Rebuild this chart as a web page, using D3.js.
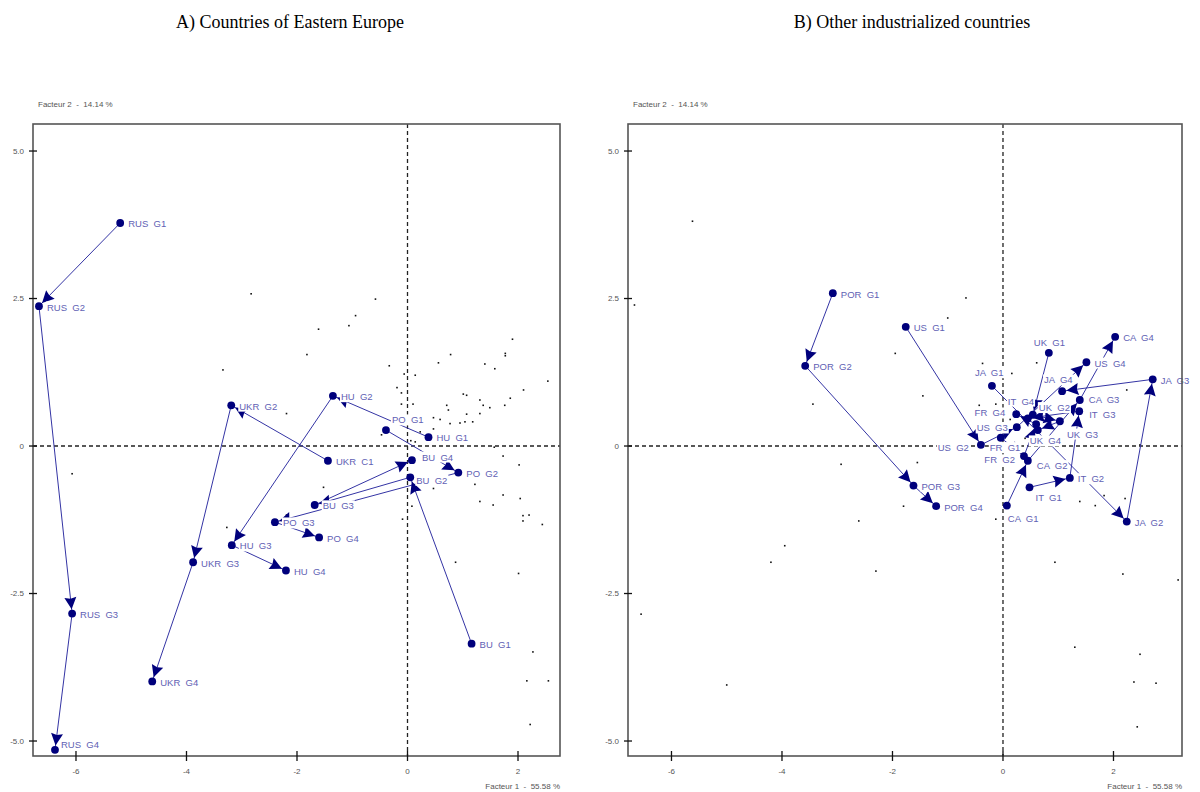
<!DOCTYPE html>
<html><head><meta charset="utf-8">
<script src="https://cdn.jsdelivr.net/npm/d3@7"></script>
<style>body{margin:0;background:#fff}svg{display:block}</style>
</head><body>
<svg id="c" width="1200" height="792"></svg>
<script>
// ---------------- DATA ----------------
const periods = ["G1", "G2", "G3", "G4"];

// Panel A : Eastern Europe (factor 1, factor 2) for G1..G4
const eastCountries = ["RUS", "UKR", "HU", "PO", "BU"];
const RUS = [[-5.20, 3.78], [-6.67, 2.37], [-6.07, -2.84], [-6.38, -5.15]];
const UKR = [[-1.44, -0.25], [-3.19, 0.69], [-3.88, -1.97], [-4.62, -3.99]];
const HU  = [[0.38, 0.15], [-1.35, 0.85], [-3.18, -1.68], [-2.20, -2.11]];
const PO  = [[-0.39, 0.27], [0.92, -0.45], [-2.40, -1.29], [-1.60, -1.55]];
const BU  = [[1.16, -3.35], [0.05, -0.53], [-1.68, -1.00], [0.08, -0.24]];

// Panel B : other industrialized countries
const otherCountries = ["POR", "US", "JA", "UK", "IT", "FR", "CA"];
const POR = [[-3.08, 2.59], [-3.58, 1.36], [-1.62, -0.67], [-1.21, -1.02]];
const US  = [[-1.76, 2.02], [-0.40, 0.02], [0.25, 0.32], [1.51, 1.42]];
const JA  = [[-0.20, 1.02], [2.24, -1.28], [2.71, 1.13], [1.07, 0.93]];
const UK  = [[0.83, 1.58], [0.54, 0.53], [1.03, 0.42], [0.63, 0.27]];
const IT  = [[0.48, -0.70], [1.21, -0.54], [1.38, 0.59], [0.45, 0.47]];
const FR  = [[-0.04, 0.14], [0.38, -0.17], [0.60, 0.37], [0.24, 0.54]];
const CA  = [[0.07, -1.01], [0.45, -0.25], [1.39, 0.78], [2.03, 1.85]];

// supplementary (unlabelled) points
const suppA = [[-2.83,2.58],[-0.58,2.49],[-0.94,2.21],[-1.61,1.98],[-1.06,2.04],[-1.82,1.55],[-0.33,1.36],[-0.06,1.22],[-0.19,0.99],[0.14,1.20],[0.78,1.55],[0.56,1.41],[1.40,1.39],[1.58,1.31],[1.77,1.57],[1.77,1.53],[1.90,1.81],[2.54,1.10],[-0.11,0.90],[-2.19,0.55],[-0.11,0.71],[0.10,0.71],[0.71,0.69],[1.01,0.88],[1.07,0.86],[1.31,0.78],[1.37,0.69],[1.49,0.65],[1.76,0.69],[1.86,0.81],[2.10,0.95],[0.74,0.61],[1.07,0.54],[1.31,0.55],[1.18,0.41],[0.47,0.48],[0.59,0.45],[0.77,0.38],[0.95,0.39],[1.04,0.41],[0.23,0.24],[0.47,0.29],[0.06,0.09],[0.14,0.07],[0.47,-0.72],[1.22,-0.65],[1.73,-0.83],[2.04,-0.89],[-0.47,0.19],[-1.52,-0.70],[2.27,-3.49],[2.16,-3.98],[2.55,-3.98],[2.22,-4.72],[-2.19,-1.17],[-3.27,-1.38],[0.08,-1.02],[-0.09,-1.24],[0.87,-1.97],[2.01,-2.16],[1.31,-0.94],[1.55,-1.00],[2.09,-1.18],[2.09,-1.27],[2.20,-1.17],[2.44,-1.33],[-6.07,-0.47],[-3.34,1.29],[1.57,-0.02],[1.73,-0.17],[2.02,-0.32]];
const suppB = [[-5.62,3.81],[-6.67,2.39],[-1.95,1.57],[-1.45,0.85],[-1.55,-0.28],[-1.80,-1.02],[-0.37,1.40],[0.16,1.23],[0.61,1.41],[-0.43,0.69],[-0.13,0.71],[0.13,0.45],[0.40,0.13],[1.39,-0.94],[1.67,-1.01],[1.83,-0.84],[2.21,-0.89],[2.24,0.95],[2.48,0.02],[-0.13,-1.24],[-0.67,2.51],[-1.00,2.17],[-3.44,0.71],[-2.93,-0.31],[-2.61,-1.27],[-3.95,-1.69],[-4.20,-1.97],[-2.30,-2.12],[-6.55,-2.85],[-5.00,-4.05],[0.94,-1.97],[2.17,-2.17],[3.17,-2.27],[1.30,-3.41],[2.48,-3.53],[2.37,-4.00],[2.77,-4.02],[2.43,-4.76]];

const yTicks = [5, 2.5, 0, -2.5, -5];
const yTickLabels = ["5.0", "2.5", "0", "-2.5", "-5.0"];
const xTicks = [-6, -4, -2, 0, 2];
const xTickLabels = ["-6", "-4", "-2", "0", "2"];
const titles = ["A) Countries of Eastern Europe", "B) Other industrialized countries"];
const axis1Title = "Facteur 1  -  55.58 %";
const axis2Title = "Facteur 2  -  14.14 %";
const labelTextOverride = {"UKR G1": "UKR  C1"};
const hiddenLabels = ["FR G3"];

// ---------------- LAYOUT (label offsets in px) ----------------
const labelOffsetsA = {
  "RUS G4": [6, -5], "PO G1": [6, -10], "BU G2": [6, 3], "BU G4": [10, -3]
};
const labelOffsetsB = {
  "US G2": [-12, 3, "end"], "US G3": [-9, 1, "end"], "FR G1": [-11, 10], "FR G2": [-9, 4, "end"],
  "FR G4": [-11, -1, "end"], "IT G4": [-20, -17], "JA G1": [-17, -13], "UK G1": [-15, -10],
  "JA G4": [-18, -11], "UK G2": [6, -7], "UK G3": [7, 13], "UK G4": [-8, 11],
  "CA G2": [9, 5], "IT G1": [6, 10], "CA G1": [1, 13], "CA G3": [9, 0], "IT G3": [10, 3]
};

const svg = d3.select("#c");
const navy = "#00007c", lineCol = "#3434a4", labCol = "#6161b4";

function panel(opt) {
  const x = d3.scaleLinear().domain(opt.xDomain).range([opt.left, opt.right]);
  const y = d3.scaleLinear().domain([-5.254, 5.458]).range([756, 124]);
  const g = svg.append("g");
  svg.append("text").attr("x", opt.titleX).attr("y", 28).attr("text-anchor", "middle")
    .attr("font-family", "Liberation Serif, Times New Roman, serif").attr("font-size", 18)
    .attr("fill", "#000").text(opt.title);
  g.append("line").attr("x1", x(0)).attr("x2", x(0)).attr("y1", y.range()[1]).attr("y2", y.range()[0])
    .attr("stroke", "#222").attr("stroke-width", 1.3).attr("stroke-dasharray", "4,3");
  g.append("line").attr("x1", opt.left).attr("x2", opt.right).attr("y1", y(0)).attr("y2", y(0))
    .attr("stroke", "#222").attr("stroke-width", 1.3).attr("stroke-dasharray", "4,3");
  g.append("g").selectAll("rect").data(opt.supp).join("rect")
    .attr("x", d => x(d[0]) - 0.8).attr("y", d => y(d[1]) - 0.8).attr("width", 1.6).attr("height", 1.6)
    .attr("fill", "#111");
  const series = opt.countries.map((c, i) => ({c, pts: opt.values[i].map((v, j) => ({c, p: periods[j], px: x(v[0]), py: y(v[1])}))}));
  const segs = [];
  series.forEach(s => { for (let j = 0; j < s.pts.length - 1; j++) segs.push([s.pts[j], s.pts[j + 1]]); });
  g.append("g").selectAll("line").data(segs).join("line")
    .attr("x1", d => d[0].px).attr("y1", d => d[0].py).attr("x2", d => d[1].px).attr("y2", d => d[1].py)
    .attr("stroke", lineCol).attr("stroke-width", 1);
  const L = 12, W = 12, r = 3.9;
  g.append("g").selectAll("path").data(segs).join("path")
    .attr("d", d => {
      const dx = d[1].px - d[0].px, dy = d[1].py - d[0].py, len = Math.hypot(dx, dy);
      const ux = dx / len, uy = dy / len, nx = -uy, ny = ux;
      const tx = d[1].px - ux * (r + 0.5), ty = d[1].py - uy * (r + 0.5);
      const bx = tx - ux * L, by = ty - uy * L;
      const mx = tx - ux * L * 0.88, my = ty - uy * L * 0.88;
      return `M${tx},${ty}L${bx + nx * W / 2},${by + ny * W / 2}L${mx},${my}L${bx - nx * W / 2},${by - ny * W / 2}Z`;
    }).attr("fill", navy);
  const all = series.flatMap(s => s.pts);
  const lg = g.append("g").attr("font-family", "Liberation Sans, Arial, sans-serif").attr("font-size", 9.5);
  all.forEach(d => {
    const key = d.c + " " + d.p;
    if (hiddenLabels.includes(key)) return;
    const o = opt.offsets[key] || [8, 1, "start"];
    const txt = labelTextOverride[key] || (d.c + "  " + d.p);
    const t = lg.append("text").attr("x", d.px + o[0]).attr("y", d.py + o[1]).attr("dy", "0.35em")
      .attr("text-anchor", o[2] || "start").attr("fill", labCol)
      .style("white-space", "pre").text(txt);
    const bb = t.node().getBBox();
    lg.insert("rect", "text:last-child").attr("x", bb.x - 1).attr("y", bb.y).attr("width", bb.width + 2)
      .attr("height", bb.height).attr("fill", "#fff");
  });
  g.append("g").selectAll("circle").data(all).join("circle")
    .attr("cx", d => d.px).attr("cy", d => d.py).attr("r", r).attr("fill", navy);
  g.append("rect").attr("x", opt.left).attr("y", 124).attr("width", opt.right - opt.left).attr("height", 632)
    .attr("fill", "none").attr("stroke", "#555").attr("stroke-width", 1.6);
  const tk = g.append("g").attr("font-family", "Liberation Sans, Arial, sans-serif").attr("font-size", 8).attr("fill", "#555");
  yTicks.forEach((v, i) => {
    tk.append("line").attr("x1", opt.left - 4).attr("x2", opt.left + 4).attr("y1", y(v)).attr("y2", y(v)).attr("stroke", "#111").attr("stroke-width", 1.3);
    tk.append("text").attr("x", opt.left - 9).attr("y", y(v)).attr("dy", "0.35em").attr("text-anchor", "end").text(yTickLabels[i]);
  });
  xTicks.forEach((v, i) => {
    tk.append("line").attr("x1", x(v)).attr("x2", x(v)).attr("y1", 751).attr("y2", 761).attr("stroke", "#111").attr("stroke-width", 1.3);
    tk.append("text").attr("x", x(v)).attr("y", 771).attr("dy", "0.35em").attr("text-anchor", "middle").text(xTickLabels[i]);
  });
  tk.append("text").attr("x", opt.left + 5).attr("y", 104).attr("dy", "0.35em").text(axis2Title).style("white-space", "pre");
  tk.append("text").attr("x", opt.right).attr("y", 786).attr("dy", "0.35em").attr("text-anchor", "end").text(axis1Title).style("white-space", "pre");
}

panel({left: 33, right: 560, xDomain: [-6.778, 2.760], titleX: 290, title: titles[0],
  countries: eastCountries, values: [RUS, UKR, HU, PO, BU], supp: suppA, offsets: labelOffsetsA});
panel({left: 628, right: 1182, xDomain: [-6.787, 3.240], titleX: 912, title: titles[1],
  countries: otherCountries, values: [POR, US, JA, UK, IT, FR, CA], supp: suppB, offsets: labelOffsetsB});
</script>
</body></html>
